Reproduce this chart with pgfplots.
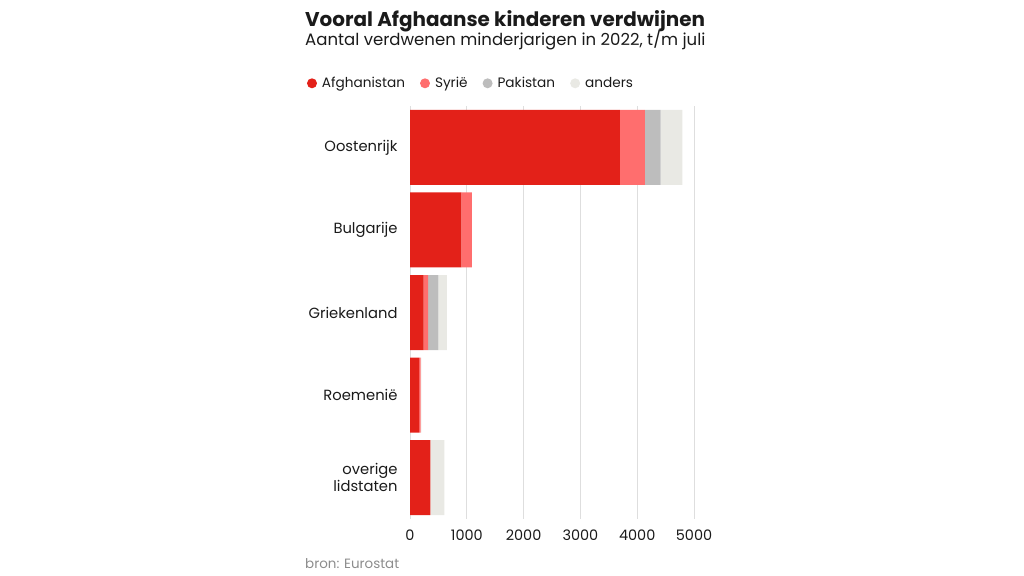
\documentclass[border=0pt]{standalone}
\usepackage{pgfplots}
\pgfplotsset{compat=1.18}
\usepackage{fontspec}
\setmainfont{Poppins}
\definecolor{afg}{HTML}{E32119}
\definecolor{syr}{HTML}{FF6E6E}
\definecolor{pak}{HTML}{BDBDBD}
\definecolor{andc}{HTML}{E9E9E4}
\definecolor{gridc}{HTML}{DEDEDE}
\definecolor{txt}{HTML}{1A1A1A}
\begin{document}
\begin{tikzpicture}[x=1bp,y=1bp]
\path (0,0) rectangle (1024,-576);
\node[anchor=base west, inner sep=0, text=txt, font=\fontsize{20}{24}\selectfont\bfseries] at (305,-27) {Vooral Afghaanse kinderen verdwijnen};
\node[anchor=base west, inner sep=0, text=txt, font=\fontsize{16.6}{20}\selectfont] at (305,-45.5) {Aantal verdwenen minderjarigen in 2022, t/m juli};
\node[anchor=base west, inner sep=0, text=black!45, font=\fontsize{13.5}{16}\selectfont] at (305,-568) {bron: Eurostat};
\begin{axis}[
  at={(410bp,-519bp)}, anchor=south west,
  scale only axis, width=284bp, height=413bp,
  xbar stacked, bar width=75bp,
  xmin=0, xmax=5000,
  ymin=-0.5, ymax=4.5, y dir=reverse,
  ytick={0,1,2,3,4},
  yticklabels={Oostenrijk,Bulgarije,Griekenland,Roemeni\"e,{overige\\lidstaten}},
  yticklabel style={align=right, font=\fontsize{14.8}{17.5}\selectfont, text=txt, xshift=-9bp},
  xtick={0,1000,2000,3000,4000,5000},
  xticklabel style={font=\fontsize{14.5}{17}\selectfont, text=txt, yshift=-7bp},
  /pgf/number format/assume math mode=true,
  /pgf/number format/1000 sep={},
  scaled x ticks=false,
  axis line style={draw=none},
  major tick length=0pt,
  xmajorgrids, major grid style={gridc, line width=1bp},
  legend columns=4,
  legend style={at={(-0.3634,1.055)}, anchor=west, draw=none, fill=none, inner sep=0pt,
    font=\fontsize{13.7}{16}\selectfont, text=txt,
    /tikz/every even column/.append style={column sep=13bp},
    /tikz/every odd column/.append style={column sep=3bp}},
  legend image code/.code={\fill[#1, draw=none] (0bp,0bp) circle (5bp);},
  legend cell align=left,
]
\addplot[fill=afg, draw=none] coordinates {(3695,0) (905,1) (241,2) (159,3) (359,4)};
\addplot[fill=syr, draw=none] coordinates {(441,0) (182,1) (77,2) (29,3) (0,4)};
\addplot[fill=pak, draw=none] coordinates {(276,0) (0,1) (182,2) (0,3) (0,4)};
\addplot[fill=andc, draw=none] coordinates {(381,0) (0,1) (147,2) (10,3) (247,4)};
\legend{Afghanistan, Syri\"e, Pakistan, anders}
\end{axis}
\end{tikzpicture}
\end{document}
